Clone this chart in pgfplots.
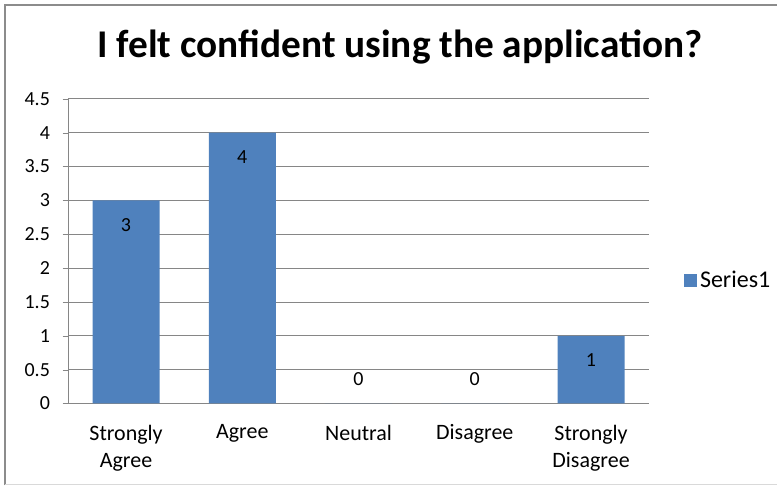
\documentclass[border=0pt]{standalone}
\usepackage{pgfplots}
\pgfplotsset{compat=1.18}
\usepackage{fontspec}
\setmainfont{Carlito}
\definecolor{barblue}{HTML}{4F81BD}
\definecolor{gridgray}{HTML}{868686}
\definecolor{framegray}{HTML}{8C8C8C}
\begin{document}
\begin{tikzpicture}
\begin{axis}[
  scale only axis,
  width=436.5pt, height=228.75pt,
  xmin=-0.5, xmax=4.5,
  ymin=0, ymax=4.5,
  ytick={0,0.5,...,4.5},
  xtick={0,1,2,3,4},
  xticklabels={{Strongly\\Agree},Agree,Neutral,Disagree,{Strongly\\Disagree}},
  xticklabel style={align=center, font=\fontsize{16.5}{20.5}\selectfont, yshift=-8.5pt},
  yticklabel style={font=\fontsize{15}{17}\selectfont, /pgf/number format/fixed, /pgf/number format/assume math mode=true, xshift=-6pt},
  axis x line*=bottom, axis y line*=left,
  axis line style={gridgray, -},
  ymajorgrids, grid style={gridgray, line width=0.6pt},
  xtick style={draw=none},
  ytick style={gridgray},
  tick align=outside, major tick length=4pt,
  title={I felt confident using the application?},
  title style={at={(0.5,1)}, anchor=base, xshift=31pt, yshift=25pt, font=\bfseries\fontsize{29.5}{34}\selectfont},
  legend style={at={(1.0,0.403)}, anchor=west, xshift=26pt, draw=none, font=\fontsize{18}{20}\selectfont, inner sep=0pt},
  legend image code/.code={\fill[barblue] (0pt,-5pt) rectangle (10pt,5pt);},
  legend cell align=left,
]
\addplot[ybar, bar width=0.576, fill=barblue, draw=none] coordinates {(0,3) (1,4) (2,0) (3,0) (4,1)};
\addlegendentry{Series1}
\addplot[draw=none, mark=none, nodes near coords, point meta=y,
  nodes near coords style={anchor=center, yshift=-18.5pt, font=\fontsize{15}{16}\selectfont, /pgf/number format/assume math mode=true}, forget plot]
  coordinates {(0,3) (1,4) (4,1)};
\addplot[draw=none, mark=none, nodes near coords, point meta=y,
  nodes near coords style={anchor=center, yshift=18pt, font=\fontsize{15}{16}\selectfont, /pgf/number format/assume math mode=true}, forget plot]
  coordinates {(2,0) (3,0)};
\end{axis}
\path ([xshift=-51pt,yshift=-61.5pt]current axis.south west) rectangle ([xshift=96pt,yshift=74.25pt]current axis.north east);
\draw[framegray, line width=1.5pt] ([xshift=-47.25pt,yshift=-61.5pt]current axis.south west) -- ([xshift=-47.25pt,yshift=70.5pt]current axis.north west) -- ([xshift=96pt,yshift=70.5pt]current axis.north east);
\draw[black!15, line width=0.75pt] ([xshift=-47.25pt,yshift=-60.75pt]current axis.south west) -- ([xshift=96pt,yshift=-60.75pt]current axis.south east);
\end{tikzpicture}
\end{document}
